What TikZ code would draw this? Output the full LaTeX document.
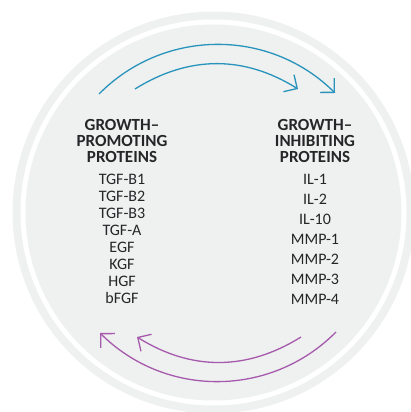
\documentclass[tikz,border=0pt]{standalone}
\usepackage{fontspec}
\setmainfont{Carlito}
\usetikzlibrary{positioning}
\usetikzlibrary{arrows.meta}
\definecolor{ringgray}{RGB}{239,240,240}
\definecolor{flowblue}{RGB}{40,148,188}
\definecolor{flowpurple}{RGB}{166,90,172}
\definecolor{textgray}{RGB}{38,38,40}

\begin{document}
\begin{tikzpicture}[x=1pt, y=1pt,
    heading/.style={font=\bfseries\fontsize{17}{16}\selectfont, align=center, text=textgray, inner sep=0pt},
    protlist/.style={font=\fontsize{16}{17}\selectfont, align=center, text=textgray, inner sep=0pt},
    blueflow/.style={draw=flowblue, line width=1.3pt, -{Straight Barb[length=10pt,width=20pt]}},
    purpleflow/.style={draw=flowpurple, line width=1.3pt, -{Straight Barb[length=10pt,width=20pt]}}
]
    \useasboundingbox (0,0) rectangle (411,412);
    % background disc with white ring
    \fill[ringgray] (213.5,199.5) circle (201pt);
    \fill[white] (213.5,199.5) circle (193pt);
    \fill[ringgray] (213.5,199.5) circle (188pt);
    % set up the nodes
    \node[heading] (promHead) at (122,271) {GROWTH--\\PROMOTING\\PROTEINS};
    \node[protlist, below=11pt of promHead] (promList) {
        TGF-B1\\TGF-B2\\TGF-B3\\TGF-A\\EGF\\KGF\\HGF\\bFGF
    };
    \node[heading] (inhHead) at (315,271) {GROWTH--\\INHIBITING\\PROTEINS};
    \node[protlist, below=11pt of inhHead, font=\fontsize{16}{20}\selectfont] (inhList) {
        IL-1\\IL-2\\IL-10\\MMP-1\\MMP-2\\MMP-3\\MMP-4
    };
    % arrow ends
    \coordinate (topOutA) at (99,318);
    \coordinate (topOutB) at (335,319);
    \coordinate (topInA) at (135,323);
    \coordinate (topInB) at (298,323);
    \coordinate (botOutA) at (336,80);
    \coordinate (botOutB) at (100,79);
    \coordinate (botInA) at (301,75);
    \coordinate (botInB) at (137,75);
    % draw arrows between them
    \draw[blueflow] (topOutA) to [bend left=45] (topOutB);
    \draw[blueflow] (topInA) to [bend left=32] (topInB);
    \draw[purpleflow] (botOutA) to [bend left=45] (botOutB);
    \draw[purpleflow] (botInA) to [bend left=32] (botInB);
\end{tikzpicture}
\end{document}
